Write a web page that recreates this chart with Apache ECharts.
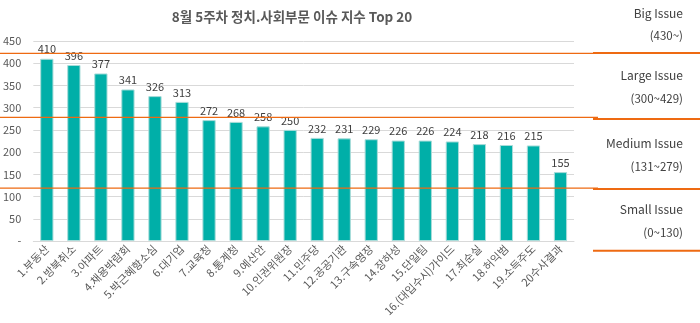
<!DOCTYPE html>
<html><head><meta charset="utf-8">
<script src="https://cdn.jsdelivr.net/npm/echarts@6/dist/echarts.min.js"></script>
<style>html,body{margin:0;padding:0;background:#fff}#c{width:700px;height:323px}</style>
</head><body><div id="c"></div>
<script>
const titleText = '8월 5주차 정치.사회부문 이슈 지수 Top 20';
const categories = ['1.부동산','2.방북취소','3.아파트','4.채용박람회','5.박근혜항소심','6.대기업','7.교육청','8.통계청','9.예산안','10.인권위원장','11.민주당','12.공공기관','13.구속영장','14.장하성','15.단일팀','16.(대입수시)가이드','17.최순실','18.허익범','19.소득주도','20수사결과'];
const values = [410,396,377,341,326,313,272,268,258,250,232,231,229,226,226,224,218,216,215,155];
const yTicks = { min: 0, max: 450, interval: 50 };
// orange threshold lines as drawn in the reference (value positions)
const thresholdValues = [422, 278, 119];
const issueNames = ['Big Issue','Large Issue','Medium Issue','Small Issue'];
const issueRanges = ['(430~)','(300~429)','(131~279)','(0~130)'];

const ORANGE = '#EE6A12';
const FONT = '"Noto Sans CJK KR","Noto Sans",sans-serif';
const chart = echarts.init(document.getElementById('c'), null, {renderer:'canvas'});
chart.setOption({
  animation: false,
  grid: { left: 33, right: 126, top: 41, bottom: 82, containLabel: false },
  xAxis: { type: 'category', data: categories,
    axisLine: { lineStyle: { color: '#d9d9d9' } }, axisTick: { show: false },
    axisLabel: { rotate: 45, interval: 0, fontFamily: FONT, fontSize: 11, color: '#595959', margin: 6 } },
  yAxis: { type: 'value', min: yTicks.min, max: yTicks.max, interval: yTicks.interval,
    axisLine: { show: false }, axisTick: { show: false },
    splitLine: { lineStyle: { color: '#d9d9d9' } },
    axisLabel: { fontFamily: FONT, fontSize: 11, color: '#595959', margin: 12,
      formatter: v => v === 0 ? '-' : String(v) } },
  series: [{ type: 'bar', data: values, barWidth: '49%',
    itemStyle: { color: '#00AFA8', borderColor: '#A8DCD9', borderWidth: 1 },
    label: { show: true, position: 'top', distance: 4, fontFamily: FONT, fontSize: 11, color: '#404040' } }]
});

const g = [];
g.push({ type: 'text', x: 292, y: 17, style: { text: titleText, align: 'center', verticalAlign: 'middle', font: 'bold 13.5px ' + FONT, fill: '#595959' } });
const ys = thresholdValues.map(v => chart.convertToPixel({ yAxisIndex: 0 }, v));
ys.forEach(y => {
  g.push({ type: 'line', shape: { x1: 0, y1: y, x2: 598, y2: y }, style: { stroke: ORANGE, lineWidth: 1.2 }, z: 10 });
});
const panelYs = [ys[0] - 0.5, ys[1] + 1.5, ys[2] + 0.8, 250.7];
panelYs.forEach(y => {
  g.push({ type: 'line', shape: { x1: 593, y1: y, x2: 700, y2: y }, style: { stroke: ORANGE, lineWidth: 2 }, z: 10 });
});
const nameY = [13.3, 75, 143.3, 209.3];
const rangeY = [36, 99, 166.7, 232.3];
issueNames.forEach((t, i) => {
  g.push({ type: 'text', x: 683, y: nameY[i], style: { text: t, align: 'right', verticalAlign: 'middle', font: '12px ' + FONT, fill: '#404040' } });
  g.push({ type: 'text', x: 683, y: rangeY[i], style: { text: issueRanges[i], align: 'right', verticalAlign: 'middle', font: '11.5px ' + FONT, fill: '#404040' } });
});
chart.setOption({ graphic: g });
</script></body></html>
